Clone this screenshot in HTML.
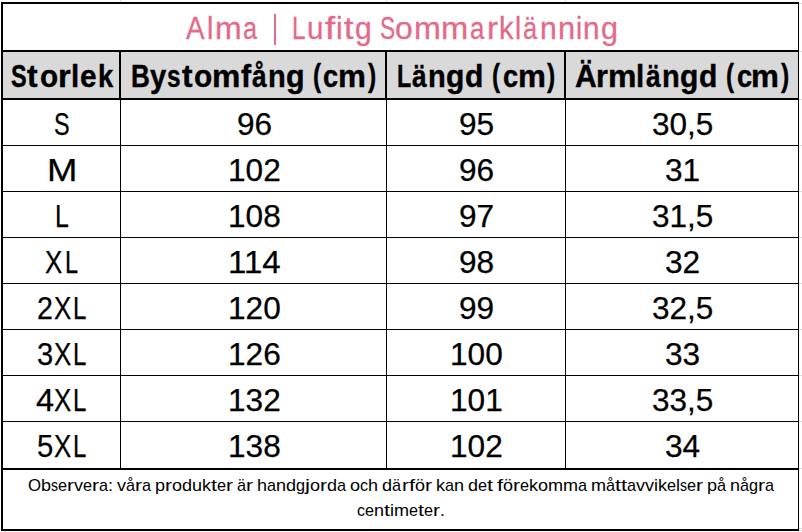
<!DOCTYPE html>
<html>
<head>
<meta charset="utf-8">
<title>Alma | Lufitg Sommarklänning</title>
<style>
html,body{margin:0;padding:0;background:#fff;}
body{width:802px;height:532px;position:relative;overflow:hidden;font-family:"Liberation Sans",sans-serif;}
.b{position:absolute;background:#000;}
.g{position:absolute;background:#dcdcdc;}
.hd{position:absolute;background:#d9d9d9;left:3px;top:52px;width:795px;height:46px;}
.t{position:absolute;white-space:nowrap;font-size:31px;line-height:1;color:#000;transform-origin:0 0;-webkit-text-stroke:0.25px #000;}
.f{font-size:17px;-webkit-text-stroke:0;}
.h{font-weight:700;-webkit-text-stroke:0.4px #000;}
.p{color:#E36A89;-webkit-text-stroke:0.3px #E36A89;}
</style>
</head>
<body>
<!-- header background -->
<div class="hd"></div>
<!-- faint spreadsheet gridline stubs outside the table -->
<div class="g" style="left:120px;top:0;width:1px;height:2px"></div>
<div class="g" style="left:386px;top:0;width:1px;height:2px"></div>
<div class="g" style="left:565px;top:0;width:1px;height:2px"></div>
<div class="g" style="left:799px;top:3px;width:3px;height:1px"></div>
<div class="g" style="left:799px;top:51px;width:3px;height:1px"></div>
<div class="g" style="left:799px;top:99px;width:3px;height:1px"></div>
<div class="g" style="left:799px;top:145px;width:3px;height:1px"></div>
<div class="g" style="left:799px;top:191px;width:3px;height:1px"></div>
<div class="g" style="left:799px;top:237px;width:3px;height:1px"></div>
<div class="g" style="left:799px;top:283px;width:3px;height:1px"></div>
<div class="g" style="left:799px;top:329px;width:3px;height:1px"></div>
<div class="g" style="left:799px;top:375px;width:3px;height:1px"></div>
<div class="g" style="left:799px;top:421px;width:3px;height:1px"></div>
<div class="g" style="left:799px;top:468px;width:3px;height:1px"></div>
<div class="g" style="left:799px;top:528px;width:3px;height:1px"></div>
<div class="g" style="left:799px;top:530px;width:3px;height:1px"></div>
<!-- outer border -->
<div class="b" style="left:1px;top:2px;width:798px;height:2px"></div>
<div class="b" style="left:1px;top:529px;width:798px;height:2px"></div>
<div class="b" style="left:1px;top:2px;width:2px;height:529px"></div>
<div class="b" style="left:798px;top:2px;width:1px;height:529px"></div>
<!-- thick horizontal rules -->
<div class="b" style="left:1px;top:50px;width:798px;height:2px"></div>
<div class="b" style="left:1px;top:98px;width:798px;height:2px"></div>
<div class="b" style="left:1px;top:468px;width:798px;height:2px"></div>
<!-- thin body row rules -->
<div class="b" style="left:1px;top:145px;width:798px;height:1px"></div>
<div class="b" style="left:1px;top:191px;width:798px;height:1px"></div>
<div class="b" style="left:1px;top:237px;width:798px;height:1px"></div>
<div class="b" style="left:1px;top:283px;width:798px;height:1px"></div>
<div class="b" style="left:1px;top:329px;width:798px;height:1px"></div>
<div class="b" style="left:1px;top:375px;width:798px;height:1px"></div>
<div class="b" style="left:1px;top:421px;width:798px;height:1px"></div>
<!-- header column dividers (2px) -->
<div class="b" style="left:119px;top:52px;width:2px;height:46px"></div>
<div class="b" style="left:385px;top:52px;width:2px;height:46px"></div>
<div class="b" style="left:564px;top:52px;width:2px;height:46px"></div>
<!-- body column dividers (1px) -->
<div class="b" style="left:120px;top:100px;width:1px;height:368px"></div>
<div class="b" style="left:386px;top:100px;width:1px;height:368px"></div>
<div class="b" style="left:565px;top:100px;width:1px;height:368px"></div>
<!-- title pipe -->
<div style="position:absolute;left:273.7px;top:14px;width:2.6px;height:31px;background:#E36A89"></div>
<!-- text -->
<span class="t p" style="left:186.45px;top:13.00px;transform:scaleX(0.8978)">A</span>
<span class="t p" style="left:206.85px;top:13.00px;transform:scaleX(0.9290)">l</span>
<span class="t p" style="left:214.65px;top:13.00px;transform:scaleX(1.0323)">m</span>
<span class="t p" style="left:242.76px;top:13.00px;transform:scaleX(0.8137)">a</span>
<span class="t p" style="left:292.05px;top:13.00px;transform:scaleX(0.7831)">L</span>
<span class="t p" style="left:306.91px;top:13.00px;transform:scaleX(0.9512)">u</span>
<span class="t p" style="left:324.85px;top:13.00px;transform:scaleX(1.1814)">f</span>
<span class="t p" style="left:335.78px;top:13.00px;transform:scaleX(0.9634)">i</span>
<span class="t p" style="left:343.85px;top:13.00px;transform:scaleX(1.1011)">t</span>
<span class="t p" style="left:355.31px;top:13.00px;transform:scaleX(0.9703)">g</span>
<span class="t p" style="left:379.54px;top:13.00px;transform:scaleX(0.7334)">S</span>
<span class="t p" style="left:395.46px;top:13.00px;transform:scaleX(1.0256)">o</span>
<span class="t p" style="left:413.94px;top:13.00px;transform:scaleX(1.0367)">m</span>
<span class="t p" style="left:441.41px;top:13.00px;transform:scaleX(1.0547)">m</span>
<span class="t p" style="left:469.74px;top:13.00px;transform:scaleX(0.8319)">a</span>
<span class="t p" style="left:486.58px;top:13.00px;transform:scaleX(1.0687)">r</span>
<span class="t p" style="left:499.03px;top:13.00px;transform:scaleX(0.9397)">k</span>
<span class="t p" style="left:515.22px;top:13.00px;transform:scaleX(0.8946)">l</span>
<span class="t p" style="left:523.26px;top:13.00px;transform:scaleX(0.8197)">ä</span>
<span class="t p" style="left:539.96px;top:13.00px;transform:scaleX(0.9733)">n</span>
<span class="t p" style="left:557.92px;top:13.00px;transform:scaleX(0.9954)">n</span>
<span class="t p" style="left:576.22px;top:13.00px;transform:scaleX(0.8946)">i</span>
<span class="t p" style="left:583.39px;top:13.00px;transform:scaleX(0.9585)">n</span>
<span class="t p" style="left:601.30px;top:13.00px;transform:scaleX(0.9841)">g</span>
<span class="t h" style="left:10.78px;top:61.00px;transform:scaleX(0.7561)">S</span>
<span class="t h" style="left:27.45px;top:61.00px;transform:scaleX(1.0224)">t</span>
<span class="t h" style="left:39.52px;top:61.00px;transform:scaleX(0.9556)">o</span>
<span class="t h" style="left:57.91px;top:61.00px;transform:scaleX(1.0529)">r</span>
<span class="t h" style="left:70.51px;top:61.00px;transform:scaleX(0.9497)">l</span>
<span class="t h" style="left:79.92px;top:61.00px;transform:scaleX(0.9613)">e</span>
<span class="t h" style="left:97.94px;top:61.00px;transform:scaleX(0.8839)">k</span>
<span class="t h" style="left:130.72px;top:61.00px;transform:scaleX(0.8413)">B</span>
<span class="t h" style="left:150.45px;top:61.00px;transform:scaleX(0.9405)">y</span>
<span class="t h" style="left:167.49px;top:61.00px;transform:scaleX(0.7858)">s</span>
<span class="t h" style="left:181.75px;top:61.00px;transform:scaleX(1.0224)">t</span>
<span class="t h" style="left:193.52px;top:61.00px;transform:scaleX(0.9615)">o</span>
<span class="t h" style="left:212.16px;top:61.00px;transform:scaleX(1.0280)">m</span>
<span class="t h" style="left:240.67px;top:61.00px;transform:scaleX(0.9831)">f</span>
<span class="t h" style="left:252.14px;top:61.00px;transform:scaleX(0.8494)">å</span>
<span class="t h" style="left:268.24px;top:61.00px;transform:scaleX(0.9355)">n</span>
<span class="t h" style="left:286.40px;top:61.00px;transform:scaleX(0.9822)">g</span>
<span class="t h" style="left:312.91px;top:59.68px;transform:scale(0.7823,1.0103)">(</span>
<span class="t h" style="left:323.40px;top:61.00px;transform:scaleX(0.8774)">c</span>
<span class="t h" style="left:338.19px;top:61.00px;transform:scaleX(1.0112)">m</span>
<span class="t h" style="left:367.95px;top:59.68px;transform:scale(0.7932,1.0103)">)</span>
<span class="t h" style="left:492.31px;top:59.68px;transform:scale(0.7823,1.0103)">(</span>
<span class="t h" style="left:502.80px;top:61.00px;transform:scaleX(0.8774)">c</span>
<span class="t h" style="left:517.59px;top:61.00px;transform:scaleX(1.0112)">m</span>
<span class="t h" style="left:547.35px;top:59.68px;transform:scale(0.7932,1.0103)">)</span>
<span class="t h" style="left:726.21px;top:59.68px;transform:scale(0.7823,1.0103)">(</span>
<span class="t h" style="left:736.70px;top:61.00px;transform:scaleX(0.8774)">c</span>
<span class="t h" style="left:751.49px;top:61.00px;transform:scaleX(1.0112)">m</span>
<span class="t h" style="left:781.25px;top:59.68px;transform:scale(0.7932,1.0103)">)</span>
<span class="t h" style="left:396.89px;top:61.00px;transform:scaleX(0.7529)">L</span>
<span class="t h" style="left:412.44px;top:61.00px;transform:scaleX(0.8494)">ä</span>
<span class="t h" style="left:428.14px;top:61.00px;transform:scaleX(0.9355)">n</span>
<span class="t h" style="left:446.31px;top:61.00px;transform:scaleX(0.9697)">g</span>
<span class="t h" style="left:464.51px;top:61.00px;transform:scaleX(0.9697)">d</span>
<span class="t h" style="left:574.88px;top:61.00px;transform:scaleX(0.9713)">Ä</span>
<span class="t h" style="left:596.03px;top:61.00px;transform:scaleX(0.9910)">r</span>
<span class="t h" style="left:608.35px;top:61.00px;transform:scaleX(1.0323)">m</span>
<span class="t h" style="left:636.31px;top:61.00px;transform:scaleX(0.9497)">l</span>
<span class="t h" style="left:646.44px;top:61.00px;transform:scaleX(0.8494)">ä</span>
<span class="t h" style="left:662.14px;top:61.00px;transform:scaleX(0.9355)">n</span>
<span class="t h" style="left:680.31px;top:61.00px;transform:scaleX(0.9697)">g</span>
<span class="t h" style="left:698.51px;top:61.00px;transform:scaleX(0.9697)">d</span>
<span class="t" style="left:54.42px;top:109.00px;transform:scaleX(0.7552)">S</span>
<span class="t" style="left:46.80px;top:155.00px;transform:scaleX(1.1777)">M</span>
<span class="t" style="left:55.20px;top:201.00px;transform:scaleX(0.8044)">L</span>
<span class="t" style="left:45.45px;top:247.00px;transform:scaleX(0.8359)">X</span>
<span class="t" style="left:64.51px;top:247.00px;transform:scaleX(0.7617)">L</span>
<span class="t" style="left:36.91px;top:293.00px;transform:scaleX(0.9222)">2</span>
<span class="t" style="left:54.25px;top:293.00px;transform:scaleX(0.8359)">X</span>
<span class="t" style="left:73.27px;top:293.00px;transform:scaleX(0.7760)">L</span>
<span class="t" style="left:36.64px;top:339.00px;transform:scaleX(0.9390)">3</span>
<span class="t" style="left:54.25px;top:339.00px;transform:scaleX(0.8359)">X</span>
<span class="t" style="left:73.27px;top:339.00px;transform:scaleX(0.7760)">L</span>
<span class="t" style="left:35.94px;top:385.00px;transform:scaleX(1.0510)">4</span>
<span class="t" style="left:54.25px;top:385.00px;transform:scaleX(0.8359)">X</span>
<span class="t" style="left:73.27px;top:385.00px;transform:scaleX(0.7760)">L</span>
<span class="t" style="left:36.93px;top:431.00px;transform:scaleX(0.9457)">5</span>
<span class="t" style="left:54.25px;top:431.00px;transform:scaleX(0.8359)">X</span>
<span class="t" style="left:73.27px;top:431.00px;transform:scaleX(0.7760)">L</span>
<span class="t" style="left:236.63px;top:109.00px;transform:scaleX(1.0191)">96</span>
<span class="t" style="left:458.93px;top:109.00px;transform:scaleX(1.0191)">95</span>
<span class="t" style="left:652.02px;top:109.00px;transform:scaleX(1.0170)">30,5</span>
<span class="t" style="left:227.84px;top:155.00px;transform:scaleX(1.0191)">102</span>
<span class="t" style="left:458.93px;top:155.00px;transform:scaleX(1.0191)">96</span>
<span class="t" style="left:665.13px;top:155.00px;transform:scaleX(1.0191)">31</span>
<span class="t" style="left:227.84px;top:201.00px;transform:scaleX(1.0191)">108</span>
<span class="t" style="left:458.93px;top:201.00px;transform:scaleX(1.0191)">97</span>
<span class="t" style="left:652.02px;top:201.00px;transform:scaleX(1.0170)">31,5</span>
<span class="t" style="left:227.84px;top:247.00px;transform:scaleX(1.0666)">114</span>
<span class="t" style="left:458.93px;top:247.00px;transform:scaleX(1.0191)">98</span>
<span class="t" style="left:665.13px;top:247.00px;transform:scaleX(1.0191)">32</span>
<span class="t" style="left:227.84px;top:293.00px;transform:scaleX(1.0191)">120</span>
<span class="t" style="left:458.93px;top:293.00px;transform:scaleX(1.0191)">99</span>
<span class="t" style="left:652.02px;top:293.00px;transform:scaleX(1.0170)">32,5</span>
<span class="t" style="left:227.84px;top:339.00px;transform:scaleX(1.0191)">126</span>
<span class="t" style="left:450.14px;top:339.00px;transform:scaleX(1.0191)">100</span>
<span class="t" style="left:665.13px;top:339.00px;transform:scaleX(1.0191)">33</span>
<span class="t" style="left:227.84px;top:385.00px;transform:scaleX(1.0191)">132</span>
<span class="t" style="left:450.14px;top:385.00px;transform:scaleX(1.0191)">101</span>
<span class="t" style="left:652.02px;top:385.00px;transform:scaleX(1.0170)">33,5</span>
<span class="t" style="left:227.84px;top:431.00px;transform:scaleX(1.0191)">138</span>
<span class="t" style="left:450.14px;top:431.00px;transform:scaleX(1.0191)">102</span>
<span class="t" style="left:665.13px;top:431.00px;transform:scaleX(1.0191)">34</span>
<span class="t f" style="left:27.70px;top:477.00px;transform:scaleX(0.9852)">O</span>
<span class="t f" style="left:40.73px;top:477.00px;transform:scaleX(1.0600)">b</span>
<span class="t f" style="left:50.75px;top:477.00px;transform:scaleX(0.8253)">s</span>
<span class="t f" style="left:57.76px;top:477.00px;transform:scaleX(0.9540)">e</span>
<span class="t f" style="left:66.78px;top:477.00px;transform:scaleX(1.2391)">r</span>
<span class="t f" style="left:73.80px;top:477.00px;transform:scaleX(1.0611)">v</span>
<span class="t f" style="left:82.82px;top:477.00px;transform:scaleX(0.9540)">e</span>
<span class="t f" style="left:91.84px;top:477.00px;transform:scaleX(1.2391)">r</span>
<span class="t f" style="left:98.85px;top:477.00px;transform:scaleX(0.9540)">a</span>
<span class="t f" style="left:107.87px;top:477.00px;transform:scaleX(1.0609)">:</span>
<span class="t f" style="left:116.89px;top:477.00px;transform:scaleX(1.0611)">v</span>
<span class="t f" style="left:125.91px;top:477.00px;transform:scaleX(0.9540)">å</span>
<span class="t f" style="left:134.93px;top:477.00px;transform:scaleX(1.2391)">r</span>
<span class="t f" style="left:141.94px;top:477.00px;transform:scaleX(0.9540)">a</span>
<span class="t f" style="left:154.97px;top:477.00px;transform:scaleX(1.0600)">p</span>
<span class="t f" style="left:164.99px;top:477.00px;transform:scaleX(1.2391)">r</span>
<span class="t f" style="left:172.01px;top:477.00px;transform:scaleX(1.0600)">o</span>
<span class="t f" style="left:182.03px;top:477.00px;transform:scaleX(1.0600)">d</span>
<span class="t f" style="left:192.05px;top:477.00px;transform:scaleX(1.0600)">u</span>
<span class="t f" style="left:202.07px;top:477.00px;transform:scaleX(1.0611)">k</span>
<span class="t f" style="left:211.09px;top:477.00px;transform:scaleX(1.2731)">t</span>
<span class="t f" style="left:217.10px;top:477.00px;transform:scaleX(0.9540)">e</span>
<span class="t f" style="left:226.12px;top:477.00px;transform:scaleX(1.2391)">r</span>
<span class="t f" style="left:237.15px;top:477.00px;transform:scaleX(0.9540)">ä</span>
<span class="t f" style="left:246.17px;top:477.00px;transform:scaleX(1.2391)">r</span>
<span class="t f" style="left:257.19px;top:477.00px;transform:scaleX(1.0600)">h</span>
<span class="t f" style="left:267.21px;top:477.00px;transform:scaleX(0.9540)">a</span>
<span class="t f" style="left:276.23px;top:477.00px;transform:scaleX(1.0600)">n</span>
<span class="t f" style="left:286.25px;top:477.00px;transform:scaleX(1.0600)">d</span>
<span class="t f" style="left:296.27px;top:477.00px;transform:scaleX(0.9540)">g</span>
<span class="t f" style="left:305.29px;top:477.00px;transform:scaleX(1.3267)">j</span>
<span class="t f" style="left:310.30px;top:477.00px;transform:scaleX(1.0600)">o</span>
<span class="t f" style="left:320.32px;top:477.00px;transform:scaleX(1.2391)">r</span>
<span class="t f" style="left:327.34px;top:477.00px;transform:scaleX(1.0600)">d</span>
<span class="t f" style="left:337.36px;top:477.00px;transform:scaleX(0.9540)">a</span>
<span class="t f" style="left:350.39px;top:477.00px;transform:scaleX(1.0600)">o</span>
<span class="t f" style="left:360.41px;top:477.00px;transform:scaleX(0.9432)">c</span>
<span class="t f" style="left:368.43px;top:477.00px;transform:scaleX(1.0600)">h</span>
<span class="t f" style="left:382.46px;top:477.00px;transform:scaleX(1.0600)">d</span>
<span class="t f" style="left:392.48px;top:477.00px;transform:scaleX(0.9540)">ä</span>
<span class="t f" style="left:401.50px;top:477.00px;transform:scaleX(1.2391)">r</span>
<span class="t f" style="left:408.51px;top:477.00px;transform:scaleX(1.2731)">f</span>
<span class="t f" style="left:414.53px;top:477.00px;transform:scaleX(1.0600)">ö</span>
<span class="t f" style="left:424.55px;top:477.00px;transform:scaleX(1.2391)">r</span>
<span class="t f" style="left:435.57px;top:477.00px;transform:scaleX(1.0611)">k</span>
<span class="t f" style="left:444.59px;top:477.00px;transform:scaleX(0.9540)">a</span>
<span class="t f" style="left:453.61px;top:477.00px;transform:scaleX(1.0600)">n</span>
<span class="t f" style="left:467.64px;top:477.00px;transform:scaleX(1.0600)">d</span>
<span class="t f" style="left:477.66px;top:477.00px;transform:scaleX(0.9540)">e</span>
<span class="t f" style="left:486.68px;top:477.00px;transform:scaleX(1.2731)">t</span>
<span class="t f" style="left:496.70px;top:477.00px;transform:scaleX(1.2731)">f</span>
<span class="t f" style="left:502.71px;top:477.00px;transform:scaleX(1.0600)">ö</span>
<span class="t f" style="left:512.74px;top:477.00px;transform:scaleX(1.2391)">r</span>
<span class="t f" style="left:519.75px;top:477.00px;transform:scaleX(0.9540)">e</span>
<span class="t f" style="left:528.77px;top:477.00px;transform:scaleX(1.0611)">k</span>
<span class="t f" style="left:537.79px;top:477.00px;transform:scaleX(1.0600)">o</span>
<span class="t f" style="left:547.81px;top:477.00px;transform:scaleX(1.0615)">m</span>
<span class="t f" style="left:562.84px;top:477.00px;transform:scaleX(1.0615)">m</span>
<span class="t f" style="left:577.87px;top:477.00px;transform:scaleX(0.9540)">a</span>
<span class="t f" style="left:590.90px;top:477.00px;transform:scaleX(1.0615)">m</span>
<span class="t f" style="left:605.93px;top:477.00px;transform:scaleX(0.9540)">å</span>
<span class="t f" style="left:614.95px;top:477.00px;transform:scaleX(1.2731)">t</span>
<span class="t f" style="left:620.97px;top:477.00px;transform:scaleX(1.2731)">t</span>
<span class="t f" style="left:626.98px;top:477.00px;transform:scaleX(0.9540)">a</span>
<span class="t f" style="left:636.00px;top:477.00px;transform:scaleX(1.0611)">v</span>
<span class="t f" style="left:645.02px;top:477.00px;transform:scaleX(1.0611)">v</span>
<span class="t f" style="left:654.04px;top:477.00px;transform:scaleX(1.0613)">i</span>
<span class="t f" style="left:658.05px;top:477.00px;transform:scaleX(1.0611)">k</span>
<span class="t f" style="left:667.07px;top:477.00px;transform:scaleX(0.9540)">e</span>
<span class="t f" style="left:676.08px;top:477.00px;transform:scaleX(1.0613)">l</span>
<span class="t f" style="left:680.09px;top:477.00px;transform:scaleX(0.8253)">s</span>
<span class="t f" style="left:687.11px;top:477.00px;transform:scaleX(0.9540)">e</span>
<span class="t f" style="left:696.13px;top:477.00px;transform:scaleX(1.2391)">r</span>
<span class="t f" style="left:707.15px;top:477.00px;transform:scaleX(1.0600)">p</span>
<span class="t f" style="left:717.17px;top:477.00px;transform:scaleX(0.9540)">å</span>
<span class="t f" style="left:730.20px;top:477.00px;transform:scaleX(1.0600)">n</span>
<span class="t f" style="left:740.22px;top:477.00px;transform:scaleX(0.9540)">å</span>
<span class="t f" style="left:749.24px;top:477.00px;transform:scaleX(0.9540)">g</span>
<span class="t f" style="left:758.26px;top:477.00px;transform:scaleX(1.2391)">r</span>
<span class="t f" style="left:765.27px;top:477.00px;transform:scaleX(0.9540)">a</span>
<span class="t f" style="left:356.90px;top:502.00px;transform:scaleX(0.9412)">c</span>
<span class="t f" style="left:364.90px;top:502.00px;transform:scaleX(0.9519)">e</span>
<span class="t f" style="left:373.90px;top:502.00px;transform:scaleX(1.0577)">n</span>
<span class="t f" style="left:383.90px;top:502.00px;transform:scaleX(1.2703)">t</span>
<span class="t f" style="left:389.90px;top:502.00px;transform:scaleX(1.0591)">i</span>
<span class="t f" style="left:393.90px;top:502.00px;transform:scaleX(1.0592)">m</span>
<span class="t f" style="left:408.90px;top:502.00px;transform:scaleX(0.9519)">e</span>
<span class="t f" style="left:417.90px;top:502.00px;transform:scaleX(1.2703)">t</span>
<span class="t f" style="left:423.90px;top:502.00px;transform:scaleX(0.9519)">e</span>
<span class="t f" style="left:432.90px;top:502.00px;transform:scaleX(1.2365)">r</span>
<span class="t f" style="left:439.90px;top:502.00px;transform:scaleX(1.0586)">.</span>
</body>
</html>
